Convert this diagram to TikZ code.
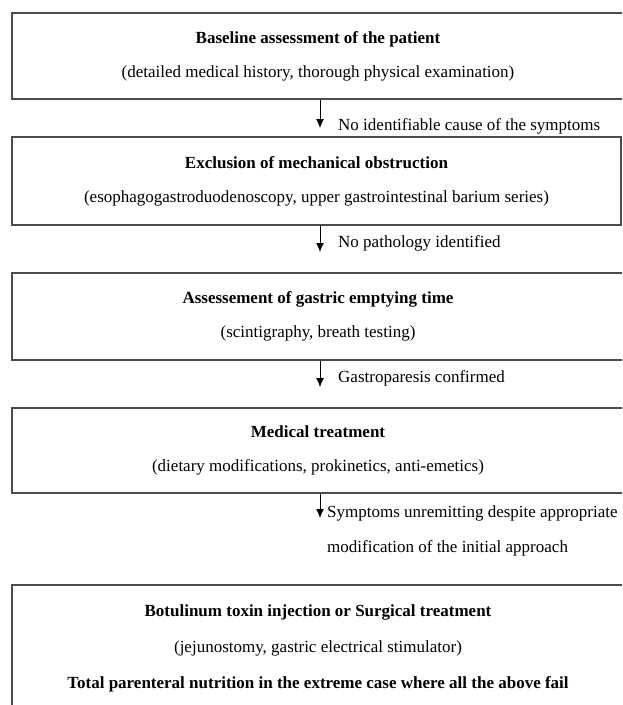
\documentclass[tikz,border=0pt]{standalone}
\usepackage{fontspec}
\setmainfont{Liberation Serif}
\usetikzlibrary{arrows.meta}
\definecolor{boxline}{RGB}{75, 75, 75}

\tikzset{
  stage/.style={draw=boxline, line width=1.3pt, align=center, inner sep=0pt,
    font=\fontsize{17}{34}\selectfont},
  flow/.style={-{Latex[length=9pt,width=8pt]}, line width=0.9pt},
  cond/.style={anchor=base west, align=left, inner sep=0pt,
    font=\fontsize{17}{35}\selectfont},
}

\begin{document}
\begin{tikzpicture}[x=1pt, y=-1pt]
\useasboundingbox (0,0) rectangle (622,705);
\clip (0,0) rectangle (622,705);

% Stages
\node[stage, minimum width=612pt, minimum height=86pt] (Baseline) at (318,56)
  {\textbf{Baseline assessment of the patient}\\(detailed medical history, thorough physical examination)};
\node[stage, minimum width=609pt, minimum height=88pt] (Exclusion) at (316.5,181)
  {\textbf{Exclusion of mechanical obstruction}\\(esophagogastroduodenoscopy, upper gastrointestinal barium series)};
\node[stage, minimum width=612pt, minimum height=87pt] (Emptying) at (318,316.5)
  {\textbf{Assessement of gastric emptying time}\\(scintigraphy, breath testing)};
\node[stage, minimum width=612pt, minimum height=85pt] (Medical) at (318,450.5)
  {\textbf{Medical treatment}\\(dietary modifications, prokinetics, anti-emetics)};
\node[stage, minimum width=612pt, minimum height=126pt, font=\fontsize{17}{36}\selectfont] (Surgical) at (318,648)
  {\textbf{Botulinum toxin injection or Surgical treatment}\\(jejunostomy, gastric electrical stimulator)\\\textbf{Total parenteral nutrition in the extreme case where all the above fail}};

% Arrow ends
\coordinate (t1) at (320,128);
\coordinate (t2) at (320,252);
\coordinate (t3) at (320,387);
\coordinate (t4) at (320,518);

% Arrows
\draw[flow] (Baseline.south -| t1) -- (t1);
\draw[flow] (Exclusion.south -| t2) -- (t2);
\draw[flow] (Emptying.south -| t3) -- (t3);
\draw[flow] (Medical.south -| t4) -- (t4);

% Conditions
\node[cond] (c1) at (338,130) {No identifiable cause of the symptoms};
\node[cond] (c2) at (338,247) {No pathology identified};
\node[cond] (c3) at (338,382) {Gastroparesis confirmed};
\node[cond] (c4) at (327,552) {Symptoms unremitting despite appropriate\\modification of the initial approach};

\end{tikzpicture}
\end{document}
